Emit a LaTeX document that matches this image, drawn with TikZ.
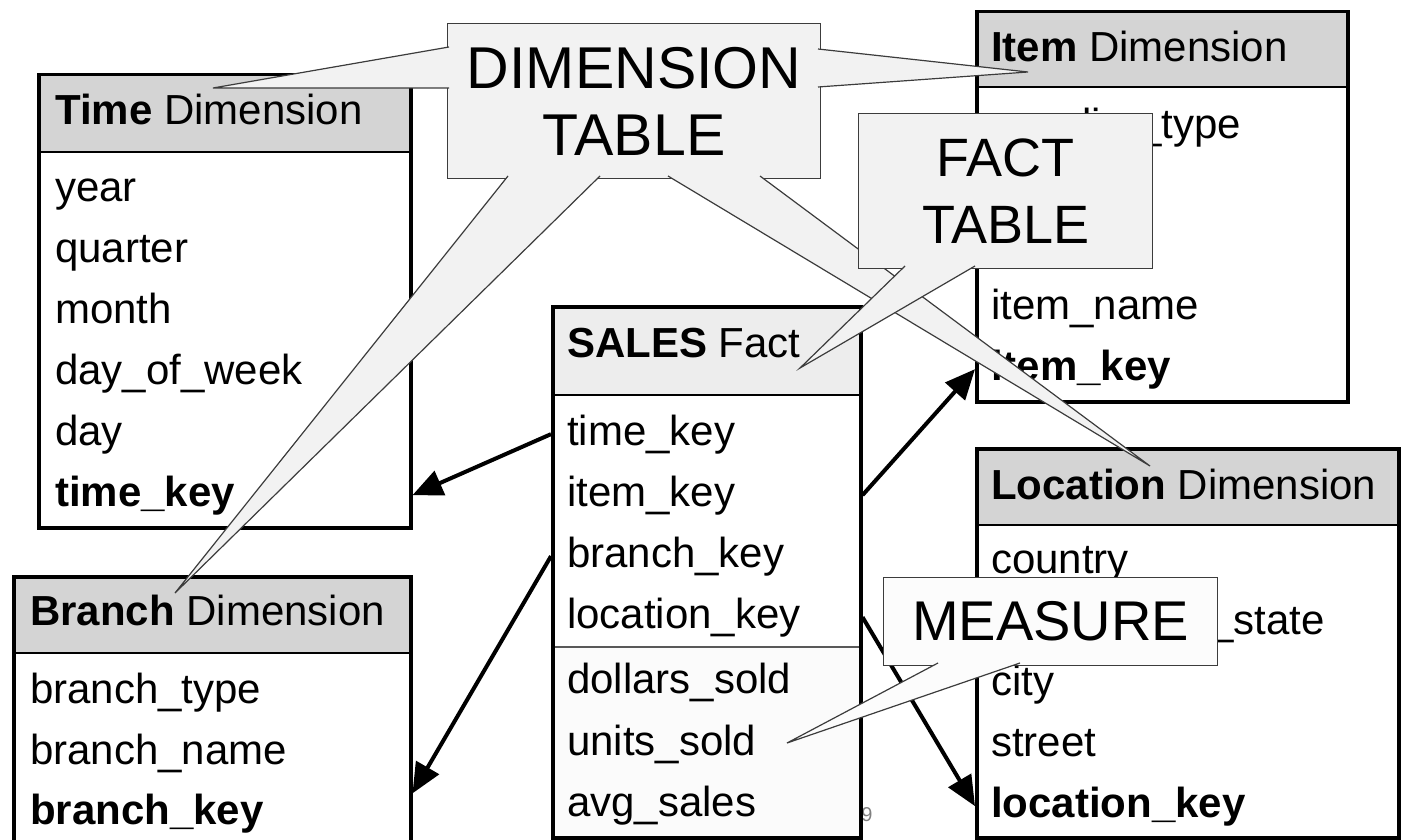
\documentclass[tikz,border=0pt]{standalone}
\usepackage{fontspec}
\setmainfont{Liberation Sans}
\usetikzlibrary{arrows.meta}
\definecolor{hdrgray}{HTML}{D4D4D4}
\definecolor{facthdr}{HTML}{EDEDED}
\definecolor{callfill}{HTML}{F2F2F2}
\definecolor{callline}{HTML}{3C3C3C}

\begin{document}
\begin{tikzpicture}[x=1pt, y=-1pt,
  tbl/.style={draw, line width=3.5pt, anchor=north west, inner sep=0pt},
  hdr/.style={fill=hdrgray},
  sep/.style={line width=2pt},
  fld/.style={anchor=base west, inner sep=0pt, font=\fontsize{42}{50}\selectfont},
  key/.style={fld, font=\fontsize{42}{50}\selectfont\bfseries},
  fk/.style={line width=4pt, -{Triangle[length=30pt, width=26pt]}},
  callout/.style={draw=callline, fill=callfill, line width=1.2pt, align=center, inner sep=0pt, anchor=north west, font=\fontsize{59}{67}\selectfont},
  tail/.style={draw=callline, fill=callfill, line width=1.2pt}]

\useasboundingbox (0,0) rectangle (1406,840);
\clip (0,0) rectangle (1406,840);

% Time dimension
\fill[hdr] (37,73) rectangle (409,152);
\draw[sep] (37,152) -- (409,152);
\node[tbl, minimum width=372pt, minimum height=453pt] (time) at (37,73) {};
\node[fld] (timeT) at (55,125) {\textbf{Time} Dimension};
\foreach \f [count=\i] in {year,quarter,month,day\_of\_week,day}
  \node[fld] (time\i) at (55,{141+60.8*\i}) {\f};
\node[key] (timeK) at (55,506) {time\_key};

% Branch dimension
\fill[hdr] (12,575) rectangle (409,653);
\draw[sep] (12,653) -- (409,653);
\node[tbl, minimum width=397pt, minimum height=300pt] (branch) at (12,575) {};
\node[fld] (branchT) at (30,625) {\textbf{Branch} Dimension};
\node[fld] (branch1) at (30,703) {branch\_type};
\node[fld] (branch2) at (30,764) {branch\_name};
\node[key] (branchK) at (30,824) {branch\_key};

% Sales fact
\node[text=gray, font=\fontsize{20}{20}\selectfont] (page) at (867,815) {9};
\fill[facthdr] (551,305) rectangle (859,395);
\fill[gray!3] (551,647) rectangle (859,836);
\draw[sep] (551,395) -- (859,395);
\draw[line width=1.5pt, gray!70!black] (551,647) -- (859,647);
\node[tbl, minimum width=308pt, minimum height=531pt] (fact) at (551,305) {};
\node[fld] (factT) at (567,357) {\textbf{SALES} Fact};
\foreach \f/\n [count=\i] in {time/fTime,item/fItem,branch/fBranch,location/fLoc}
  \node[fld] (\n) at (567,{384+61*\i}) {\f\_key};
\foreach \f [count=\i] in {dollars\_sold,units\_sold,avg\_sales}
  \node[fld] (m\i) at (567,{632+61.5*\i}) {\f};

% Item dimension
\fill[hdr] (975,10) rectangle (1346,87);
\draw[sep] (975,87) -- (1346,87);
\node[tbl, minimum width=371pt, minimum height=390pt] (item) at (975,10) {};
\node[fld] (itemT) at (991,62) {\textbf{Item} Dimension};
\node[fld] (item1) at (991,139) {supplier\_type};
\node[fld] (item4) at (991,319) {item\_name};
\node[key] (itemK) at (991,380) {item\_key};

% Location dimension
\fill[hdr] (975,447) rectangle (1397,525);
\draw[sep] (975,525) -- (1397,525);
\node[tbl, minimum width=422pt, minimum height=389pt] (loc) at (975,447) {};
\node[fld] (locT) at (991,499) {\textbf{Location} Dimension};
\foreach \f [count=\i] in {country,province\_or\_state,city,street}
  \node[fld] (loc\i) at (991,{512+61*\i}) {\f};
\node[key] (locK) at (991,817) {location\_key};

% foreign keys
\draw[fk] (fact.west |- fTime) -- (time.east |- timeK);
\draw[fk] (fact.west |- fBranch) -- (branch.east |- branchK.north);
\draw[fk] (fact.east |- fItem) -- (item.west |- itemK);
\draw[fk] (fact.east |- fLoc) -- (loc.west |- locK);

% callouts
\node[callout, minimum width=373pt, minimum height=155pt] (dimC) at (447,23) {DIMENSION\\TABLE};
\filldraw[tail] (449,47) -- (213,88) -- (449,88);
\filldraw[tail] (818,49) -- (1028,72) -- (818,87);
\filldraw[tail] (508,176) -- (175,593) -- (600,176);
\filldraw[tail] (668,176) -- (1150,466) -- (760,176);

\node[callout, font=\fontsize{54}{67}\selectfont, minimum width=294pt, minimum height=155pt] (factC) at (858,113) {FACT\\TABLE};
\filldraw[tail] (905,266) -- (800,368) -- (975,266);

\node[callout, fill=gray!2, font=\fontsize{56}{60}\selectfont, minimum width=334pt, minimum height=88pt] (measC) at (883,577) {MEASURE};
\filldraw[tail, fill=gray!2] (938,663) -- (787,743) -- (1020,663);
\end{tikzpicture}
\end{document}
